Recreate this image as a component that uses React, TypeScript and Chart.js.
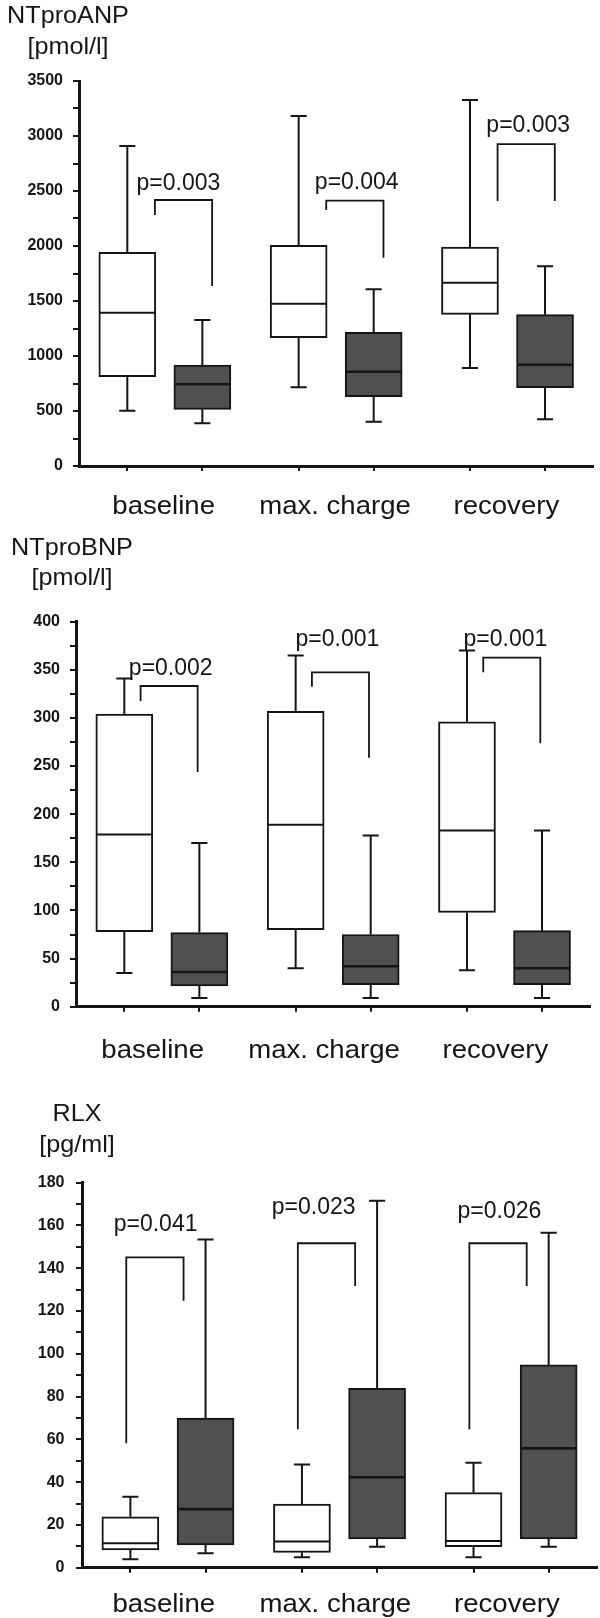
import React, { useEffect, useRef } from 'react';
import { Chart, registerables } from 'chart.js';

Chart.register(...registerables);

const categories = ['baseline', 'max. charge', 'recovery'];

// box statistics per category: [min, q1, median, q3, max]
const anpWhite = [[503, 812, 1394, 1943, 2909], [715, 1166, 1475, 2006, 3182], [891, 1379, 1666, 1991, 3327]];
const anpGrey = [[388, 515, 743, 918, 1327], [403, 630, 857, 1215, 1606], [424, 712, 921, 1376, 1815]];
// significance brackets: [left leg end, top, right leg end]
const anpBrackets = [[2282, 2418, 1636], [2327, 2412, 1894], [2409, 2927, 2409]];
const anpPValues = ['p=0.003', 'p=0.004', 'p=0.003'];
const anpPLabelY = [2509, 2518, 3039];

const bnpWhite = [[35, 78, 179, 304, 341], [40, 80, 189, 307, 365], [38, 98, 183, 296, 370]];
const bnpGrey = [[9, 21.5, 36, 77, 170], [9, 23, 42, 75, 178], [9, 23, 40, 79, 183]];
const bnpBrackets = [[317.6, 333.2, 243.9], [332.5, 347.4, 258.7], [347.4, 362.6, 273.7]];
const bnpPValues = ['p=0.002', 'p=0.001', 'p=0.001'];
const bnpPLabelY = [344.6, 374.8, 374.8];

const rlxWhite = [[4, 8.3, 11.4, 23.8, 33.2], [4.9, 7.2, 12.2, 29.8, 48.3], [4.9, 9.8, 12.5, 35.1, 49.1]];
const rlxGrey = [[6.7, 10.6, 27.4, 70, 153.5], [9.8, 13.4, 42.3, 83.9, 171.6], [9.8, 13.4, 55.8, 94.8, 156.6]];
const rlxBrackets = [[58.2, 145.1, 124.8], [64.7, 151.7, 131.7], [64.7, 151.7, 131.7]];
const rlxPValues = ['p=0.041', 'p=0.023', 'p=0.026'];
const rlxPLabelY = [157.5, 165.4, 163.3];

const FONT = '"Liberation Sans", Arial, Helvetica, sans-serif';
const INK = '#151515';
const GREY = '#505050';
const WHITE_DX = -0.218;
const GREY_DX = 0.22;
const CAP = 0.047;
const HALF_BOX = 0.163;

const panels = [
  {
    canvasTop: 0, canvasHeight: 528,
    area: { left: 79, right: 593, top: 81, bottom: 466 },
    yMax: 3500, yStep: 250, yLabelStep: 500, tickPad: 10,
    white: anpWhite, grey: anpGrey, brackets: anpBrackets, pValues: anpPValues, pLabelY: anpPLabelY,
    pDx: [0.08, 0.121, 0.122], bracketDx: [-0.057, 0.277],
    title: ['NTproANP', '[pmol/l]'], titleX: 68, titleY: [23, 54],
    labelShift: -1, labelBaseline: 514,
  },
  {
    canvasTop: 528, canvasHeight: 540,
    area: { left: 76, right: 590, top: 621.7, bottom: 1006.7 },
    yMax: 400, yStep: 25, yLabelStep: 50, tickPad: 10,
    white: bnpWhite, grey: bnpGrey, brackets: bnpBrackets, pValues: bnpPValues, pLabelY: bnpPLabelY,
    pDx: [0.053, 0.026, 0.006], bracketDx: [-0.123, 0.21],
    title: ['NTproBNP', '[pmol/l]'], titleX: 72, titleY: [555, 585],
    labelShift: -9, labelBaseline: 1058,
  },
  {
    canvasTop: 1068, canvasHeight: 550,
    area: { left: 82, right: 596.7, top: 1182.7, bottom: 1567.7 },
    yMax: 180, yStep: 10, yLabelStep: 20, tickPad: 11.5,
    white: rlxWhite, grey: rlxGrey, brackets: rlxBrackets, pValues: rlxPValues, pLabelY: rlxPLabelY,
    pDx: [-0.071, -0.15, -0.067], bracketDx: [-0.242, 0.092],
    title: ['RLX', '[pg/ml]'], titleX: 77, titleY: [1121, 1152],
    labelShift: -4, labelBaseline: 1611.7,
  },
];

function drawText(ctx, text, x, y, size, sx, align) {
  ctx.save();
  ctx.translate(x, y);
  ctx.scale(sx, 1);
  ctx.font = `${size}px ${FONT}`;
  ctx.textAlign = align;
  ctx.textBaseline = 'alphabetic';
  ctx.fillStyle = INK;
  ctx.fillText(text, 0, 0);
  ctx.restore();
}

function Panel({ cfg }) {
  const ref = useRef(null);
  useEffect(() => {
    const canvas = ref.current;
    const h = cfg.canvasHeight;
    const top = cfg.area.top - cfg.canvasTop;
    const bottom = cfg.area.bottom - cfg.canvasTop;

    const boxes = [];
    categories.forEach((_, i) => {
      boxes.push({ x: i + 0.5 + WHITE_DX, s: cfg.white[i], fill: '#ffffff', grey: false });
      boxes.push({ x: i + 0.5 + GREY_DX, s: cfg.grey[i], fill: GREY, grey: true });
    });
    const gap = (x) => ({ x, y: null });

    const whiskers = [];
    const medWhite = [];
    const medGrey = [];
    boxes.forEach((b) => {
      const [mn, q1, md, q3, mx] = b.s;
      whiskers.push(
        { x: b.x, y: q3 }, { x: b.x, y: mx }, gap(b.x),
        { x: b.x - CAP, y: mx }, { x: b.x + CAP, y: mx }, gap(b.x),
        { x: b.x, y: q1 }, { x: b.x, y: mn }, gap(b.x),
        { x: b.x - CAP, y: mn }, { x: b.x + CAP, y: mn }, gap(b.x),
      );
      const m = b.grey ? medGrey : medWhite;
      m.push({ x: b.x - HALF_BOX, y: md }, { x: b.x + HALF_BOX, y: md }, gap(b.x));
    });

    const brackets = [];
    cfg.brackets.forEach((br, i) => {
      const l = i + 0.5 + cfg.bracketDx[0];
      const r = i + 0.5 + cfg.bracketDx[1];
      brackets.push({ x: l, y: br[0] }, { x: l, y: br[1] }, { x: r, y: br[1] }, { x: r, y: br[2] }, gap(r));
    });

    const lineBase = {
      type: 'line',
      borderColor: INK,
      pointRadius: 0,
      pointHoverRadius: 0,
      tension: 0,
      fill: false,
      spanGaps: false,
      borderCapStyle: 'butt',
      borderJoinStyle: 'miter',
    };

    const textPlugin = {
      id: 'panelText',
      afterDraw(chart) {
        const ctx = chart.ctx;
        const xs = chart.scales.x;
        const ys = chart.scales.y;
        drawText(ctx, cfg.title[0], cfg.titleX, cfg.titleY[0] - cfg.canvasTop, 24, 1.05, 'center');
        drawText(ctx, cfg.title[1], cfg.titleX, cfg.titleY[1] - cfg.canvasTop, 24, 1.05, 'center');
        categories.forEach((c, i) => {
          drawText(ctx, c, xs.getPixelForValue(i + 0.5) + cfg.labelShift, cfg.labelBaseline - cfg.canvasTop, 26.5, 1.04, 'center');
        });
        cfg.pValues.forEach((p, i) => {
          drawText(ctx, p, xs.getPixelForValue(i + 0.5 + cfg.pDx[i]), ys.getPixelForValue(cfg.pLabelY[i]), 23, 1.0, 'center');
        });
      },
    };

    const chart = new Chart(canvas, {
      type: 'bar',
      data: {
        datasets: [
          {
            type: 'line', ...lineBase, data: brackets, borderWidth: 1.8, order: 1,
          },
          {
            type: 'line', ...lineBase, data: medGrey, borderWidth: 2.6, order: 1,
          },
          {
            type: 'line', ...lineBase, data: medWhite, borderWidth: 2, order: 1,
          },
          {
            type: 'line', ...lineBase, data: whiskers, borderWidth: 2, order: 2,
          },
          {
            type: 'bar',
            data: boxes.map((b) => ({ x: b.x, y: [b.s[1], b.s[3]] })),
            backgroundColor: boxes.map((b) => b.fill),
            borderColor: INK,
            borderWidth: 2,
            borderSkipped: false,
            barThickness: 57,
            order: 3,
          },
        ],
      },
      options: {
        animation: false,
        responsive: false,
        maintainAspectRatio: false,
        devicePixelRatio: 1,
        events: [],
        layout: { padding: { left: 0, right: 600 - cfg.area.right, top, bottom: 0 } },
        plugins: { legend: { display: false }, tooltip: { enabled: false }, title: { display: false } },
        scales: {
          x: {
            type: 'linear',
            min: 0,
            max: 3,
            offset: false,
            afterBuildTicks: (s) => {
              s.ticks = boxes.map((b) => ({ value: b.x }));
            },
            afterFit: (s) => { s.height = h - bottom; },
            ticks: { display: false },
            grid: {
              display: true, drawOnChartArea: false, drawTicks: true, tickLength: 5,
              color: INK, lineWidth: 2, offset: false,
            },
            border: { display: true, color: INK, width: 3 },
          },
          y: {
            type: 'linear',
            min: 0,
            max: cfg.yMax,
            afterFit: (s) => { s.width = cfg.area.left; },
            ticks: {
              stepSize: cfg.yStep,
              autoSkip: false,
              maxTicksLimit: 200,
              padding: cfg.tickPad,
              color: INK,
              font: { family: FONT, size: 16, weight: 'bold' },
              callback: (v) => (Math.abs(v % cfg.yLabelStep) < 1e-6 ? String(v) : ''),
            },
            grid: {
              display: true, drawOnChartArea: false, drawTicks: true, tickLength: 6,
              color: INK, lineWidth: 2,
            },
            border: { display: true, color: INK, width: 3 },
          },
        },
      },
      plugins: [textPlugin],
    });
    return () => chart.destroy();
  }, [cfg]);

  return (
    <canvas
      ref={ref}
      width={600}
      height={cfg.canvasHeight}
      style={{ position: 'absolute', left: 0, top: cfg.canvasTop, width: 600, height: cfg.canvasHeight, display: 'block' }}
    />
  );
}

export default function App() {
  return (
    <div style={{ position: 'absolute', left: 0, top: 0, width: 600, height: 1618, background: '#ffffff', overflow: 'hidden' }}>
      {panels.map((p, i) => (
        <Panel key={i} cfg={p} />
      ))}
    </div>
  );
}
